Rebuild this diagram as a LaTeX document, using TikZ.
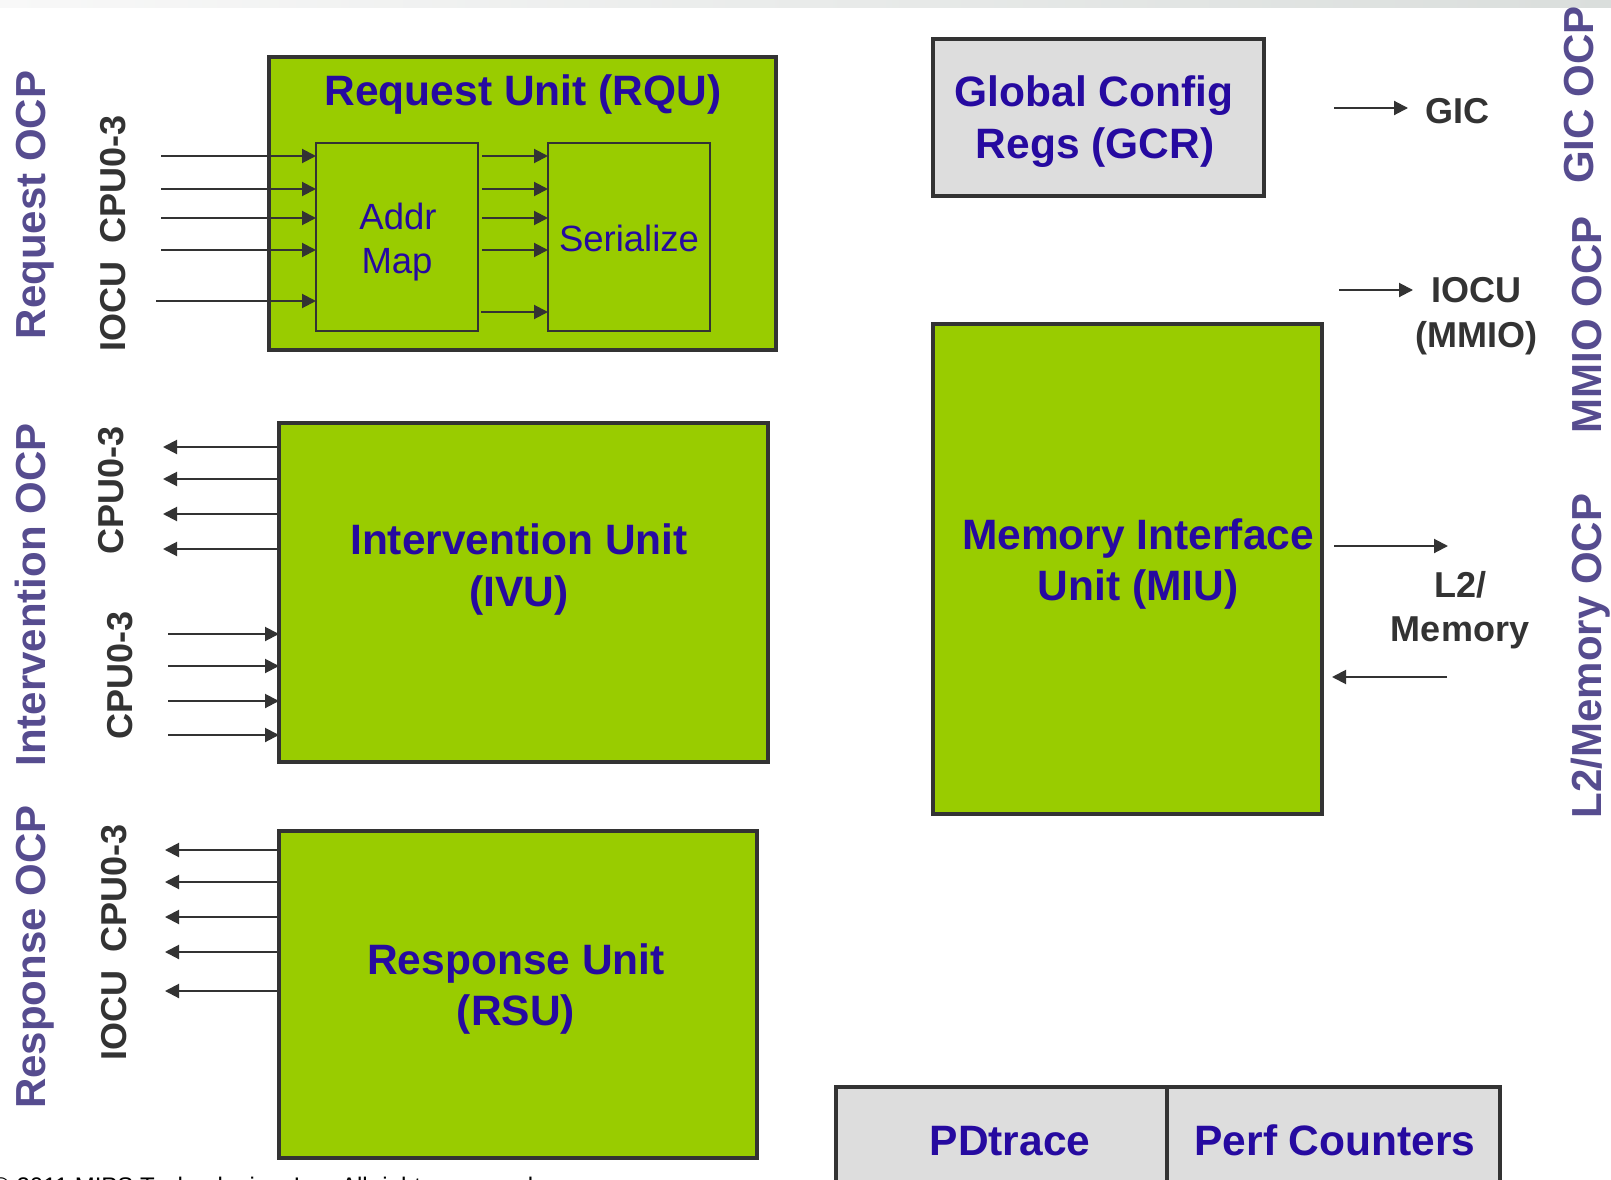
\documentclass[tikz,border=0pt]{standalone}
\usepackage{fontspec}
\setmainfont{Liberation Sans}
\usetikzlibrary{arrows.meta}

\definecolor{unitgreen}{RGB}{153,204,0}
\definecolor{cfggray}{RGB}{221,221,221}
\definecolor{edge}{RGB}{51,51,51}
\definecolor{unitblue}{RGB}{38,10,160}
\definecolor{ocppurple}{RGB}{86,76,143}
\definecolor{sigtext}{RGB}{51,51,51}
\definecolor{stripL}{RGB}{248,248,248}
\definecolor{stripR}{RGB}{218,222,220}

\begin{document}
\begin{tikzpicture}[x=1pt,y=-1pt,
  unitbox/.style={draw=edge, line width=4pt, fill=unitgreen, inner sep=0pt, outer sep=0pt, anchor=north west},
  cfgbox/.style={unitbox, fill=cfggray},
  subbox/.style={draw=edge, line width=1.6pt, inner sep=0pt, outer sep=0pt, anchor=north west},
  wire/.style={draw=edge, line width=2pt, -{Triangle[length=14pt,width=14pt]}},
  unitlabel/.style={text=unitblue, font=\fontsize{42.5}{50}\selectfont\bfseries, anchor=base, inner sep=0pt},
  sublabel/.style={text=unitblue, font=\fontsize{36.5}{44}\selectfont, anchor=base, inner sep=0pt},
  ocplabel/.style={text=ocppurple, font=\fontsize{42}{50}\selectfont\bfseries, anchor=base, rotate=90, inner sep=0pt},
  siglabel/.style={text=sigtext, font=\fontsize{36}{44}\selectfont\bfseries, anchor=base, inner sep=0pt},
  sigvert/.style={siglabel, rotate=90},
]
\useasboundingbox (0,0) rectangle (1611,1180);
\fill[white] (0,0) rectangle (1611,1180);
\begin{scope}
\clip (0,0) rectangle (1611,1180);

% header strip
\shade[left color=stripL, right color=stripR] (0,0) rectangle (1611,8);

% ---------------- Request Unit ----------------
\node[unitbox, minimum width=507pt, minimum height=293pt] (rqu) at (269,57) {};
\node[subbox, minimum width=162pt, minimum height=188pt] (addr) at (316,143) {};
\node[subbox, minimum width=162pt, minimum height=188pt] (ser) at (548,143) {};
\node[unitlabel] (rqut) at (523,106) {Request Unit (RQU)};
\node[sublabel] (addrA) at (398,229) {Addr};
\node[sublabel] (addrB) at (397,273) {Map};
\node[sublabel] (sert) at (629,251) {Serialize};

\foreach \i/\y in {1/156,2/189,3/218,4/250} {
  \coordinate (rq\i) at (161,\y);
  \draw[wire] (rq\i) -- (rq\i -| addr.west);
  \draw[wire] ([xshift=4pt]addr.east |- rq\i) -- (ser.west |- rq\i);
}
\coordinate (rq5) at (156,301);
\draw[wire] (rq5) -- (rq5 -| addr.west);
\coordinate (rs5) at (0,312);
\draw[wire] ([xshift=3pt]addr.east |- rs5) -- (ser.west |- rs5);

\node[ocplabel] (reqocp) at (45,205) {Request OCP};
\node[sigvert] (reqsig) at (125,233) {IOCU\hspace{18pt}CPU0-3};

% ---------------- Intervention Unit ----------------
\node[unitbox, minimum width=489pt, minimum height=339pt] (ivu) at (279,423) {};
\node[unitlabel] (ivuA) at (519,554) {Intervention Unit};
\node[unitlabel] (ivuB) at (519,606) {(IVU)};

\foreach \i/\y in {1/447,2/479,3/514,4/549} {
  \coordinate (iv\i) at (163,\y);
  \draw[wire] (iv\i -| ivu.west) -- (iv\i);
}
\foreach \i/\y in {1/634,2/666,3/701,4/735} {
  \coordinate (ii\i) at (168,\y);
  \draw[wire] (ii\i) -- (ii\i -| ivu.west);
}

\node[ocplabel] (intocp) at (45,595) {Intervention OCP};
\node[sigvert] (intsigA) at (123,490) {CPU0-3};
\node[sigvert] (intsigB) at (132,675) {CPU0-3};

% ---------------- Response Unit ----------------
\node[unitbox, minimum width=478pt, minimum height=327pt] (rsu) at (279,831) {};
\node[unitlabel] (rsuA) at (516,974) {Response Unit};
\node[unitlabel] (rsuB) at (516,1025) {(RSU)};

\foreach \i/\y in {1/850,2/882,3/917,4/952,5/991} {
  \coordinate (ro\i) at (165,\y);
  \draw[wire] (ro\i -| rsu.west) -- (ro\i);
}

\node[ocplabel] (rspocp) at (45,957) {Response OCP};
\node[sigvert] (rspsig) at (126,942) {IOCU\hspace{18pt}CPU0-3};

% ---------------- Global Config Regs ----------------
\node[cfgbox, minimum width=331pt, minimum height=157pt] (gcr) at (933,39) {};
\node[unitlabel] (gcrA) at (1094,107) {Global Config};
\node[unitlabel] (gcrB) at (1095,158) {Regs (GCR)};

\coordinate (gicA) at (1334,108);
\coordinate (gicB) at (1408,108);
\draw[wire] (gicA) -- (gicB);
\node[siglabel] (gic) at (1457,124) {GIC};
\node[ocplabel] (gicocp) at (1593,95) {GIC OCP};

% ---------------- Memory Interface Unit ----------------
\node[unitbox, minimum width=389pt, minimum height=490pt] (miu) at (933,324) {};
\node[unitlabel] (miuA) at (1138,549) {Memory Interface};
\node[unitlabel] (miuB) at (1138,600) {Unit (MIU)};

\coordinate (mmA) at (1339,290);
\coordinate (mmB) at (1413,290);
\draw[wire] (mmA) -- (mmB);
\node[siglabel] (iocuA) at (1476,302) {IOCU};
\node[siglabel] (iocuB) at (1476,347) {(MMIO)};
\node[ocplabel] (mmioocp) at (1601,325) {MMIO OCP};

\coordinate (l2oA) at (1334,546);
\coordinate (l2oB) at (1448,546);
\draw[wire] (l2oA) -- (l2oB);
\coordinate (l2iA) at (1447,677);
\coordinate (l2iB) at (1332,677);
\draw[wire] (l2iA) -- (l2iB);
\node[siglabel] (l2A) at (1460,597) {L2/};
\node[siglabel] (l2B) at (1460,641) {Memory};
\node[ocplabel] (l2ocp) at (1601,656) {L2/Memory OCP};

% ---------------- Debug blocks ----------------
\node[cfgbox, minimum width=331pt, minimum height=200pt] (pdt) at (836,1087) {};
\node[cfgbox, minimum width=333pt, minimum height=200pt] (perf) at (1167,1087) {};
\node[unitlabel] (pdtt) at (1010,1155) {PDtrace};
\node[unitlabel] (perft) at (1335,1155) {Perf Counters};

% footer, running off the lower page edge
\node[anchor=base west, inner sep=0pt, font=\fontsize{24}{28}\selectfont, text=black] (copyr) at (-8,1194) {© 2011 MIPS Technologies, Inc. All rights reserved.};
\end{scope}
\end{tikzpicture}
\end{document}
